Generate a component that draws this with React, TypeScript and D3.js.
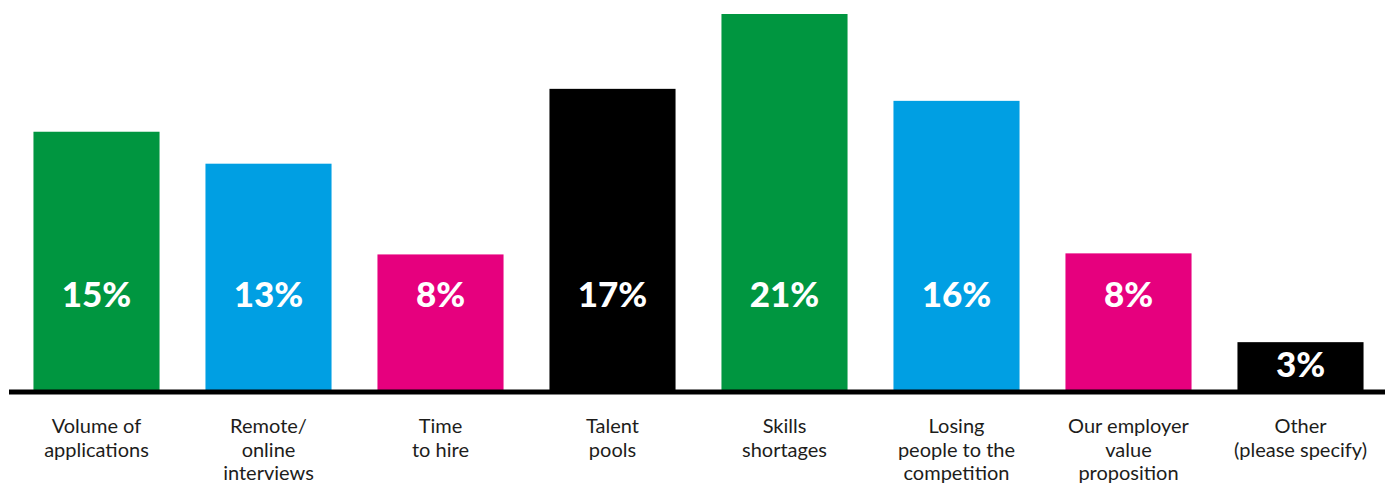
import React from "react";
import * as d3 from "d3";

const categories: string[][] = [
  ["Volume of", "applications"],
  ["Remote/", "online", "interviews"],
  ["Time", "to hire"],
  ["Talent", "pools"],
  ["Skills", "shortages"],
  ["Losing", "people to the", "competition"],
  ["Our employer", "value", "proposition"],
  ["Other", "(please specify)"],
];
const values: number[] = [14.63, 12.82, 7.68, 17.06, 21.3, 16.38, 7.74, 2.71];
const valueLabels: string[] = ["15%", "13%", "8%", "17%", "21%", "16%", "8%", "3%"];
const colors: string[] = ["#009640", "#009FE3", "#E6007E", "#000000", "#009640", "#009FE3", "#E6007E", "#000000"];

const W = 1391;
const H = 484;
const baseY = 390;

export default function App() {
  const ids = categories.map((_, i) => String(i));
  const x = d3.scaleBand<string>().domain(ids).range([10.5, 1386.5]).paddingInner(0.267).paddingOuter(0.1335);
  const y = d3.scaleLinear().domain([0, 21.3]).range([baseY, 14]);
  return (
    <svg width={W} height={H} style={{ position: "absolute", left: 0, top: 0, display: "block" }}>
      <rect width={W} height={H} fill="#ffffff" />
      {values.map((v, i) => {
        const x0 = x(ids[i])!;
        const bw = x.bandwidth();
        const top = y(v);
        const cx = x0 + bw / 2;
        const ly = baseY - top > 120 ? 293 : (top + baseY) / 2 - 3;
        return (
          <g key={i}>
            <rect x={x0} y={top} width={bw} height={baseY - top} fill={colors[i]} />
            <text
              x={cx}
              y={ly}
              textAnchor="middle"
              dominantBaseline="central"
              fill="#ffffff"
              fontFamily="Lato, sans-serif"
              fontWeight={900}
              fontSize={35}
            >
              {valueLabels[i]}
            </text>
            {categories[i].map((line, j) => (
              <text
                key={j}
                x={cx}
                y={433 + j * 23.5}
                textAnchor="middle"
                fill="#1d1d1b"
                fontFamily="Lato, sans-serif"
                fontSize={20}
              >
                {line}
              </text>
            ))}
          </g>
        );
      })}
      <line x1={9} x2={1385} y1={392} y2={392} stroke="#000" strokeWidth={5} />
    </svg>
  );
}
